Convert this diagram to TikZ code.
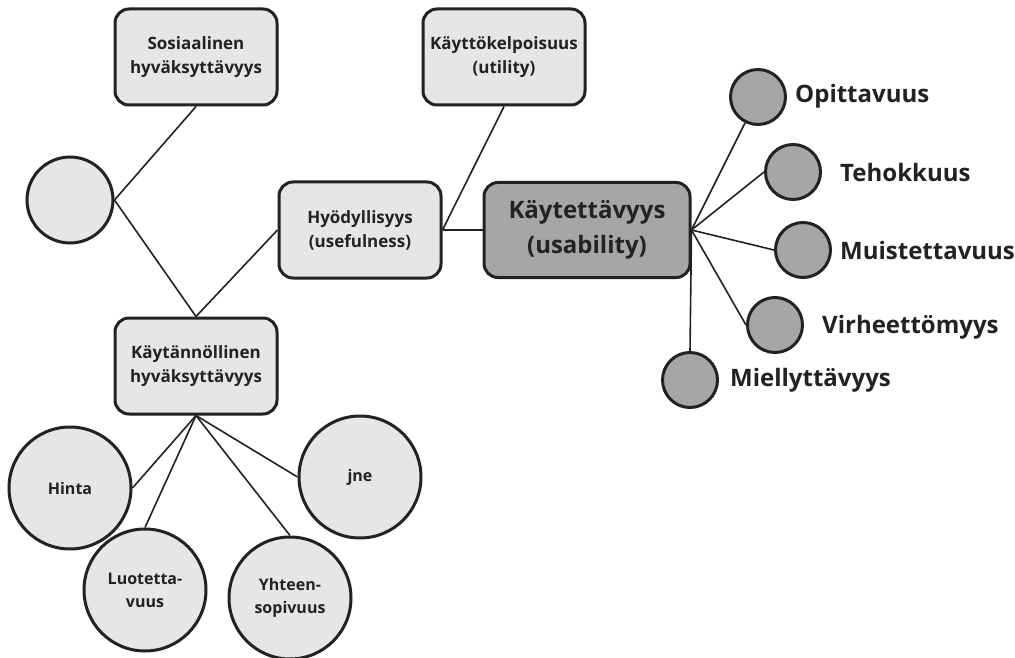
\documentclass[tikz,border=0pt]{standalone}
\usepackage{fontspec}
\setmainfont{Open Sans}
\definecolor{lightfill}{HTML}{E6E6E6}
\definecolor{darkfill}{HTML}{A6A6A6}
\definecolor{ink}{HTML}{222222}
\begin{document}
\begin{tikzpicture}[x=1pt,y=-1pt,
  box/.style={draw=ink,line width=3pt,rounded corners=14pt,fill=lightfill,align=center,inner sep=0pt,
    minimum width=162pt,minimum height=96pt,text=ink,font=\fontsize{17}{24}\selectfont\bfseries},
  bigbox/.style={box,fill=darkfill,minimum width=206pt,minimum height=95pt,font=\fontsize{24}{35}\selectfont\bfseries},
  bigcirc/.style={draw=ink,line width=3pt,circle,fill=lightfill,minimum size=122pt,inner sep=0pt,align=center,
    text=ink,font=\fontsize{16}{23}\selectfont\bfseries},
  smallcirc/.style={draw=ink,line width=3pt,circle,fill=darkfill,minimum size=55pt,inner sep=0pt},
  lbl/.style={anchor=west,text=ink,font=\fontsize{24}{28}\selectfont\bfseries,inner sep=0pt},
  conn/.style={draw=ink,line width=1.6pt}]
\useasboundingbox (0,0) rectangle (1015,658);
\fill[white] (0,0) rectangle (1015,658);
% boxes
\node[box] (sos) at (196,57) {Sosiaalinen\\hyväksyttävyys};
\node[box] (util) at (504,57) {Käyttökelpoisuus\\(utility)};
\node[box] (hyod) at (360,230) {Hyödyllisyys\\(usefulness)};
\node[bigbox] (usab) at (587,230) {Käytettävyys\\(usability)};
\node[box] (kayt) at (196,366) {Käytännöllinen\\hyväksyttävyys};
% left circle
\node[bigcirc,minimum size=86pt] (lc) at (70,200) {};
% lower circles
\node[bigcirc] (hinta) at (70,488) {Hinta};
\node[bigcirc] (luot) at (145,590) {Luotetta-\\vuus};
\node[bigcirc] (yht) at (290,598) {Yhteen-\\sopivuus};
\node[bigcirc] (jne) at (360,477) {jne};
% right circles
\node[smallcirc] (opit) at (758,97) {};
\node[smallcirc] (teho) at (793,172) {};
\node[smallcirc] (muis) at (803,250) {};
\node[smallcirc] (virh) at (775,325) {};
\node[smallcirc] (miel) at (690,380) {};
\node[lbl] (lopit) at (795,96) {Opittavuus};
\node[lbl] (lteho) at (840,173) {Tehokkuus};
\node[lbl] (lmuis) at (840,250) {Muistettavuus};
\node[lbl] (lvirh) at (822,327) {Virheettömyys};
\node[lbl] (lmiel) at (730,380) {Miellyttävyys};
% connectors
\draw[conn] (sos.south) -- (lc.east);
\draw[conn] (lc.east) -- (kayt.north);
\draw[conn] (kayt.north) -- (hyod.west);
\draw[conn] (hyod.east) -- (usab.west);
\draw[conn] (util.south) -- (hyod.east);
\draw[conn] (kayt.south) -- (hinta.east);
\draw[conn] (kayt.south) -- (luot.north);
\draw[conn] (kayt.south) -- (yht.north);
\draw[conn] (kayt.south) -- (jne.west);
\draw[conn] (usab.east) -- (opit);
\draw[conn] (usab.east) -- (teho.west);
\draw[conn] (usab.east) -- (muis.west);
\draw[conn] (usab.east) -- (virh.west);
\draw[conn] (usab.east) -- (miel.north);
\end{tikzpicture}
\end{document}
